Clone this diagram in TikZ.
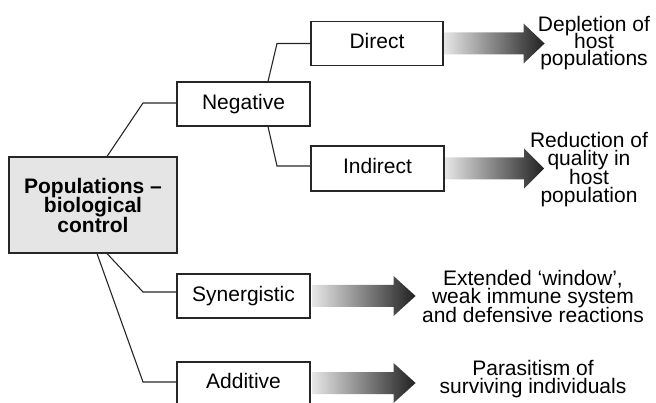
\documentclass[tikz,border=0pt]{standalone}
\usepackage{fontspec}
\setmainfont{Liberation Sans}
\usetikzlibrary{calc}

\definecolor{linegray}{gray}{0.15}
\definecolor{boxgray}{gray}{0.9}
\definecolor{arrowlight}{gray}{0.9}
\definecolor{arrowdark}{gray}{0.13}

% shaded block arrow: #1 start point (shaft middle), #2 shaft length, #3 head length
\newcommand\fatarrow[3]{%
  \shade[left color=arrowlight, right color=arrowdark]
    ($(#1)+(0,-11)$) -- ++(#2,0) -- ++(0,-9) -- ++(#3,20) -- ++(-#3,20)
    -- ++(0,-9) -- ++(-#2,0) -- cycle;}

\begin{document}
\begin{tikzpicture}[x=1pt,y=-1pt,
  lbl/.style={font={\fontsize{21}{21}\selectfont}, text height=15.2pt, text depth=4.4pt},
  stepbox/.style={draw=linegray, line width=1.1pt, fill=white,
    minimum width=133pt, minimum height=44pt, inner sep=0pt, lbl},
  mainbox/.style={draw=linegray, line width=1.1pt, fill=boxgray,
    minimum width=168pt, minimum height=96pt, inner sep=0pt, align=center,
    font={\fontsize{21}{19.5}\selectfont\bfseries\lineskiplimit=-30pt}},
  result/.style={align=center, inner sep=0pt, anchor=north},
  link/.style={draw=linegray, line width=1.1pt}]

\useasboundingbox (0,0) rectangle (656,403);
\clip (0,0) rectangle (656,403);

% boxes
\node[mainbox] (main) at (93,205) {Populations –\\biological\\control};
\node[stepbox] (neg) at (243.5,104) {Negative};
\node[stepbox, minimum width=132pt] (dir) at (377,43.5) {Direct};
\node[stepbox, minimum height=45pt] (ind) at (377.5,168.5) {Indirect};
\node[stepbox] (syn) at (243.5,296) {Synergistic};
\node[stepbox, minimum height=42pt] (add) at (243.5,383) {Additive};

% connectors
\draw[link] ([xshift=14pt]main.north) -- (143,103) -- ([yshift=1pt]neg.west);
\draw[link] ([xshift=24.5pt]neg.north) -- (277,43.5) -- (dir.west);
\draw[link] ([xshift=24.5pt]neg.south) -- (277,166) -- ([yshift=2.5pt]ind.west);
\draw[link] ([xshift=14pt]main.south) -- (143,292) -- ([yshift=4pt]syn.west);
\draw[link] ([xshift=4pt]main.south) -- (143,382) -- ([yshift=1pt]add.west);

% outcome arrows
\fatarrow{[xshift=1pt]dir.east}{79}{21}
\fatarrow{[xshift=0.5pt]ind.east}{79}{20}
\fatarrow{[xshift=2pt]syn.east}{81}{22}
\fatarrow{[xshift=2pt]add.east}{81}{22}

% outcomes
\node[result, font={\fontsize{21}{17.2}\selectfont\lineskiplimit=-30pt}] (rdir) at (594,16)
  {Depletion of\\host\\populations};
\node[result, font={\fontsize{21}{18.3}\selectfont\lineskiplimit=-30pt}] (rind) at (589,132)
  {Reduction of\\quality in\\host\\population};
\node[result, font={\fontsize{21}{18.5}\selectfont\lineskiplimit=-30pt}] (rsyn) at (533,270)
  {Extended ‘window’,\\weak immune system\\and defensive reactions};
\node[result, font={\fontsize{21}{18}\selectfont\lineskiplimit=-30pt}] (radd) at (533,360)
  {Parasitism of\\surviving individuals};
\end{tikzpicture}
\end{document}
